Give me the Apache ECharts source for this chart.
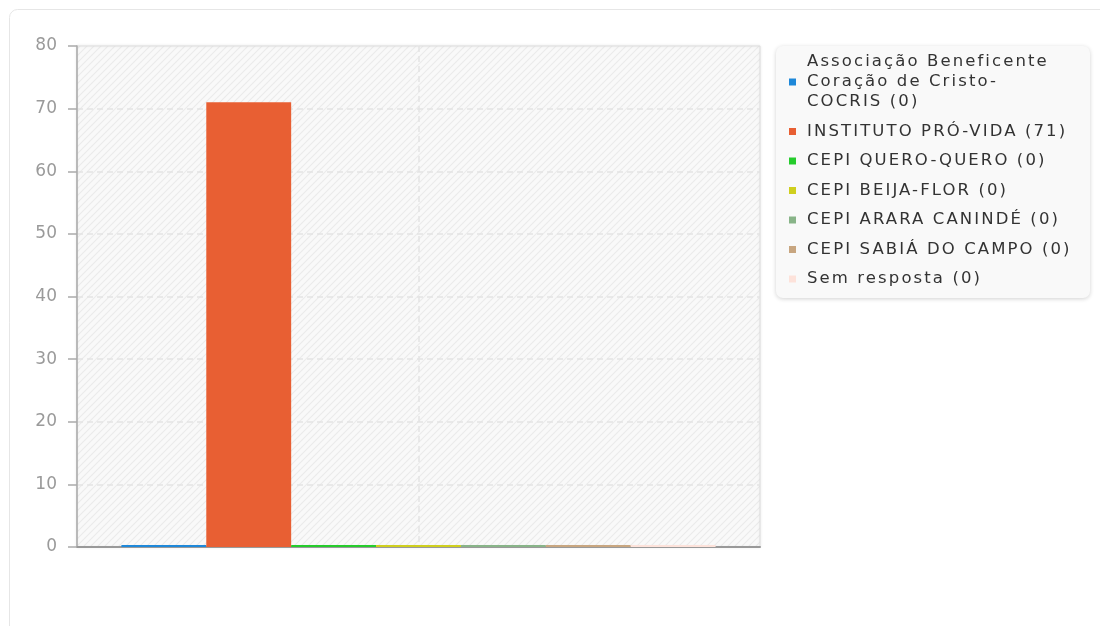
<!DOCTYPE html>
<html>
<head>
<meta charset="utf-8">
<script src="https://cdn.jsdelivr.net/npm/echarts@6/dist/echarts.min.js"></script>
<style>
  html, body { margin: 0; padding: 0; background: #fff; }
  #chart { width: 1100px; height: 626px; }
</style>
</head>
<body>
<div id="chart"></div>
<script>
// one bar per institution, zero values still show as a thin line
const names = [
  'Associação Beneficente Coração de Cristo- COCRIS',
  'INSTITUTO PRÓ-VIDA',
  'CEPI QUERO-QUERO',
  'CEPI BEIJA-FLOR',
  'CEPI ARARA CANINDÉ',
  'CEPI SABIÁ DO CAMPO',
  'Sem resposta'
]
const values = [0, 71, 0, 0, 0, 0, 0]
const colors = ['#1e88d9', '#e85f33', '#25cc2c', '#cfcf1e', '#88b488', '#c8a680', '#fde2da']
const yTicks = [0, 10, 20, 30, 40, 50, 60, 70, 80]

// the legend text in the original is spaced out a bit
const legendFont = 'DejaVu Sans, Verdana'
const spacing = 2.1
const mctx = document.createElement('canvas').getContext('2d')
echarts.setPlatformAPI({
  measureText (text, font) {
    mctx.font = font || '12px sans-serif'
    const w = mctx.measureText(text).width
    const extra = font && font.indexOf('Verdana') >= 0 ? spacing * text.length : 0
    return { width: w + extra }
  }
})

// hatch pattern for the plot background
function hatch () {
  const c = document.createElement('canvas')
  c.width = 7
  c.height = 7
  const ctx = c.getContext('2d')
  ctx.fillStyle = '#f9f9f9'
  ctx.fillRect(0, 0, 7, 7)
  ctx.strokeStyle = '#ebebeb'
  ctx.lineWidth = 1.2
  ctx.beginPath()
  ctx.moveTo(-1, 8); ctx.lineTo(8, -1)
  ctx.moveTo(-1, 1); ctx.lineTo(1, -1)
  ctx.moveTo(6, 8); ctx.lineTo(8, 6)
  ctx.stroke()
  return c
}

const chart = echarts.init(document.getElementById('chart'))
try {
  chart.getZr().painter.getLayer(1).ctx.letterSpacing = spacing + 'px'
} catch (e) {}

const option = {
  animation: false,
  graphic: [{
    type: 'rect',
    shape: { x: 9.5, y: 9.5, width: 1200, height: 700, r: 8 },
    style: { fill: '#fff', stroke: '#e6e6e6', lineWidth: 1 },
    z: -10,
    silent: true
  }],
  grid: {
    left: 77,
    right: 340,
    top: 46,
    bottom: 79,
    show: true,
    backgroundColor: { image: hatch(), repeat: 'repeat' },
    borderColor: '#dddddd',
    borderWidth: 1,
    shadowColor: 'rgba(0,0,0,0.08)',
    shadowBlur: 3
  },
  legend: {
    zlevel: 1,
    orient: 'vertical',
    left: 776,
    top: 46,
    icon: 'rect',
    itemWidth: 7,
    itemHeight: 7,
    itemGap: 9.5,
    padding: [6, 7, 9, 13],
    backgroundColor: '#f9f9f9',
    borderRadius: 7,
    shadowColor: 'rgba(0,0,0,0.18)',
    shadowBlur: 4,
    shadowOffsetY: 1,
    selectedMode: false,
    textStyle: {
      fontFamily: legendFont,
      fontSize: 16.5,
      color: '#333',
      lineHeight: 20,
      width: 276,
      overflow: 'break',
      padding: [0, 0, 0, 6]
    },
    formatter: function (name) {
      // break after a trailing hyphen like the original
      return name.replace('- ', '-\n') + ' (' + values[names.indexOf(name)] + ')'
    },
    data: names
  },
  xAxis: [{
    type: 'category',
    data: [''],
    axisLine: { lineStyle: { color: '#999', width: 2 } },
    axisTick: { show: false },
    axisLabel: { show: false },
    splitLine: { show: false }
  }, {
    type: 'value',
    min: 0,
    max: 2,
    interval: 1,
    show: true,
    axisLine: { show: false },
    axisTick: { show: false },
    axisLabel: { show: false },
    splitLine: {
      show: true,
      showMinLine: false,
      showMaxLine: false,
      lineStyle: { color: '#e4e4e4', type: [6, 4], width: 1.5 }
    }
  }],
  yAxis: {
    type: 'value',
    min: yTicks[0],
    max: yTicks[yTicks.length - 1],
    interval: 10,
    axisLine: { show: true, lineStyle: { color: '#aaa', width: 1.5 } },
    axisTick: { show: true, length: 9, lineStyle: { color: '#aaa', width: 1.5 } },
    axisLabel: { color: '#9a9a9a', fontFamily: 'DejaVu Sans', fontSize: 17, margin: 20 },
    splitLine: {
      show: true,
      showMaxLine: false,
      lineStyle: { color: '#e4e4e4', type: [6, 4], width: 1.5 }
    }
  },
  series: names.map((n, i) => ({
    name: n,
    type: 'bar',
    xAxisIndex: 0,
    data: [values[i]],
    barGap: '0%',
    barCategoryGap: '13%',
    barMinHeight: 2,
    itemStyle: { color: colors[i] }
  }))
}

chart.setOption(option)
</script>
</body>
</html>
